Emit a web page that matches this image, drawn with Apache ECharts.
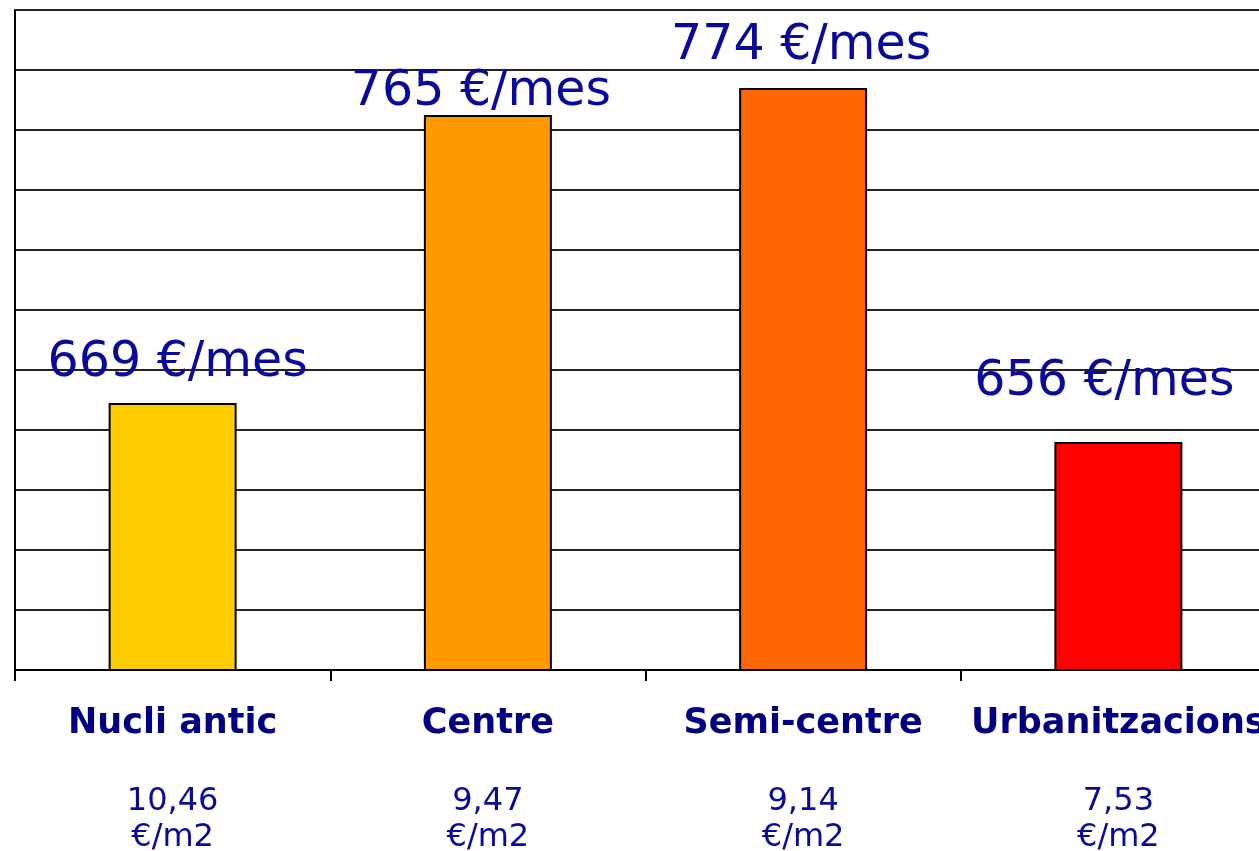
<!DOCTYPE html>
<html>
<head>
<meta charset="utf-8">
<script src="https://cdn.jsdelivr.net/npm/echarts@6/dist/echarts.min.js"></script>
<style>
  html, body { margin: 0; padding: 0; background: #fff; }
  #myChart { width: 1259px; height: 851px; }
</style>
</head>
<body>
<div id="myChart"></div>
<script>
// zones and monthly rent
var zones = ['Nucli antic', 'Centre', 'Semi-centre', 'Urbanitzacions']
var rentMonth = [669, 765, 774, 656]
var rentM2 = ['10,46', '9,47', '9,14', '7,53']
var barColors = ['#FFCC00', '#FF9900', '#FF6600', '#FF0000']
// label offsets, as placed in the original
var labelOffsets = [[5, -10], [-7, 7], [-2, -12], [-14, -30]]

var chart = echarts.init(document.getElementById('myChart'))

chart.setOption({
  animation: false,
  grid: {
    left: 15,
    right: -17,
    top: 10,
    bottom: 181,
    outerBoundsMode: 'none'
  },
  xAxis: {
    type: 'category',
    data: zones,
    axisLine: { lineStyle: { color: '#000', width: 2 } },
    axisTick: { show: true, length: 11, lineStyle: { color: '#000', width: 2 } },
    axisLabel: {
      interval: 0,
      margin: 32,
      hideOverlap: false,
      formatter: function (name, i) {
        return '{b|' + name + '}\n{g| }\n{v|' + rentM2[i] + '}\n{v|€/m2}'
      },
      rich: {
        b: { fontFamily: 'DejaVu Sans', fontWeight: 'bold', fontSize: 35, lineHeight: 44, color: '#000080' },
        g: { fontSize: 10, lineHeight: 38 },
        v: { fontFamily: 'DejaVu Sans', fontSize: 32, lineHeight: 36, color: '#0a0a9a' }
      }
    }
  },
  yAxis: {
    type: 'value',
    min: 580,
    max: 800,
    interval: 20,
    axisLabel: { show: false },
    axisTick: { show: false },
    axisLine: { show: true, lineStyle: { color: '#000', width: 2 } },
    splitLine: { lineStyle: { color: '#222', width: 2 } }
  },
  series: [{
    type: 'bar',
    barWidth: 128,
    data: rentMonth.map(function (v, i) {
      return {
        value: v,
        itemStyle: { color: barColors[i] },
        label: { offset: labelOffsets[i] }
      }
    }),
    itemStyle: { borderColor: '#000', borderWidth: 2 },
    label: {
      show: true,
      position: 'top',
      distance: 5,
      fontFamily: 'DejaVu Sans',
      fontSize: 49,
      color: '#0a0a9a',
      formatter: '{c} €/mes'
    }
  }]
})
</script>
</body>
</html>
